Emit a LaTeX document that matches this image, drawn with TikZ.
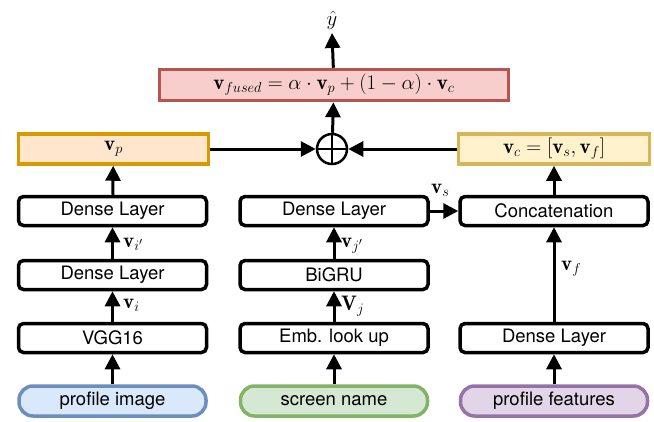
\documentclass[tikz,border=0pt]{standalone}
\usepackage{fontspec}
\newfontfamily\hv{TeX Gyre Heros}
\usetikzlibrary{arrows.meta}
\definecolor{redF}{HTML}{F8CECC}\definecolor{redD}{HTML}{B85450}
\definecolor{orgF}{HTML}{FFE6CC}\definecolor{orgD}{HTML}{D79B00}
\definecolor{yelF}{HTML}{FFF2CC}\definecolor{yelD}{HTML}{D6B656}
\definecolor{bluF}{HTML}{DAE8FC}\definecolor{bluD}{HTML}{6C8EBF}
\definecolor{grnF}{HTML}{D5E8D4}\definecolor{grnD}{HTML}{82B366}
\definecolor{purF}{HTML}{E1D5E7}\definecolor{purD}{HTML}{9673A6}
\begin{document}
\begin{tikzpicture}[x=1pt,y=-1pt,
  box/.style={draw=black,line width=3.5pt,rounded corners=5pt,fill=white,
    minimum width=188pt,minimum height=29pt,inner sep=0pt,
    font=\hv\fontsize{18.5}{20}\selectfont},
  inp/.style={box,rounded corners=14pt,minimum width=187pt,minimum height=30pt},
  vbox/.style={draw,line width=3.5pt,inner sep=0pt,minimum height=30pt,
    font=\fontsize{21}{24}\selectfont},
  arr/.style={line width=3pt,-{Triangle[length=15pt,width=15pt]}},
  lab/.style={inner sep=0pt,anchor=base west,font=\fontsize{21}{24}\selectfont}
]
\useasboundingbox (0,0) rectangle (654,421);
% left column
\node[box] (d1) at (112.5,211) {Dense Layer};
\node[box] (d2) at (112.5,275) {Dense Layer};
\node[box] (vgg) at (112.5,338) {VGG16};
\node[inp,fill=bluF,draw=bluD] (pi) at (112.5,401) {profile image};
% middle column
\node[box] (d3) at (334,211) {Dense Layer};
\node[box] (gru) at (334,275) {BiGRU};
\node[box] (emb) at (334,338) {Emb. look up};
\node[inp,fill=grnF,draw=grnD] (sn) at (334,401) {screen name};
% right column
\node[box] (cat) at (554,211) {Concatenation};
\node[box] (d4) at (554,338) {Dense Layer};
\node[inp,fill=purF,draw=purD] (pf) at (554,401) {profile features};
% top
\node[vbox,fill=orgF,draw=orgD,minimum width=190pt] (vp) at (113.5,149) {$\mathbf{v}_p$};
\node[vbox,fill=yelF,draw=yelD,minimum width=191pt] (vc) at (554,149) {$\mathbf{v}_c=\Bigl[\mathbf{v}_s,\mathbf{v}_f\Bigr]$};
\node[circle,draw,line width=2.5pt,minimum size=30pt,inner sep=0pt] (plus) at (332,149) {};
\draw[line width=2.5pt] (plus.north) -- (plus.south) (plus.west) -- (plus.east);
\node[vbox,fill=redF,draw=redD,minimum width=349pt,minimum height=31pt] (fused) at (334,85)
  {$\mathbf{v}_{fused}=\alpha\cdot\mathbf{v}_p+(1-\alpha)\cdot\mathbf{v}_c$};
\node[inner sep=0pt,anchor=south,font=\fontsize{21}{24}\selectfont] (yhat) at (332,30) {$\hat{y}$};
% labels
\node[lab] (lvi2) at (123,247) {$\mathbf{v}_{i'}$};
\node[lab] (lvi) at (123,308) {$\mathbf{v}_i$};
\node[lab] (lvj2) at (341,247) {$\mathbf{v}_{j'}$};
\node[lab] (lvj) at (341,310) {$\mathbf{V}_j$};
\node[lab] (lvs) at (431,193) {$\mathbf{v}_s$};
\node[lab] (lvf) at (561,270) {$\mathbf{v}_f$};
% arrows
\draw[arr] (pi) -- (vgg);
\draw[arr] (vgg) -- (d2);
\draw[arr] (d2) -- (d1);
\draw[arr] (d1) -- (vp);
\draw[arr] (sn) -- (emb);
\draw[arr] (emb) -- (gru);
\draw[arr] (gru) -- (d3);
\draw[arr] (d3) -- (cat);
\draw[arr] (pf) -- (d4);
\draw[arr] (d4) -- (cat);
\draw[arr] (cat) -- (vc);
\draw[arr] (vp) -- (plus);
\draw[arr] (vc) -- (plus);
\draw[arr] (plus) -- (fused);
\draw[arr] (fused) -- ([yshift=-3pt]yhat.south);
\end{tikzpicture}
\end{document}
